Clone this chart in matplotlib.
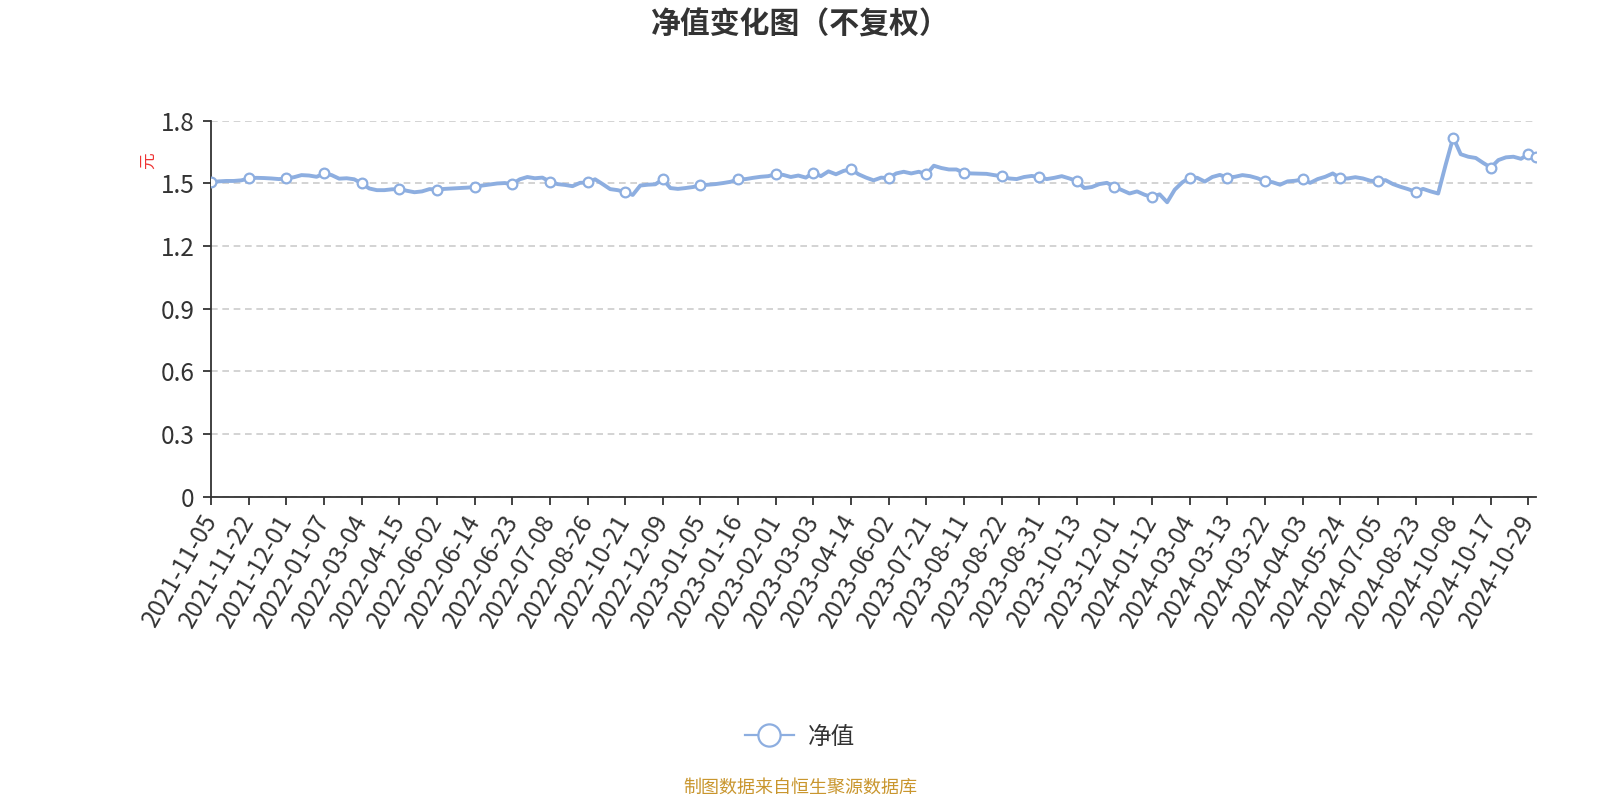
import numpy as np
import matplotlib.pyplot as plt
from matplotlib.lines import Line2D

plt.rcParams['font.family'] = ['Noto Sans CJK SC', 'DejaVu Sans']

# 横轴显示的日期（每隔5个数据点一个标签）
dates = [
    '2021-11-05', '2021-11-22', '2021-12-01', '2022-01-07', '2022-03-04', '2022-04-15',
    '2022-06-02', '2022-06-14', '2022-06-23', '2022-07-08', '2022-08-26', '2022-10-21',
    '2022-12-09', '2023-01-05', '2023-01-16', '2023-02-01', '2023-03-03', '2023-04-14',
    '2023-06-02', '2023-07-21', '2023-08-11', '2023-08-22', '2023-08-31', '2023-10-13',
    '2023-12-01', '2024-01-12', '2024-03-04', '2024-03-13', '2024-03-22', '2024-04-03',
    '2024-05-24', '2024-07-05', '2024-08-23', '2024-10-08', '2024-10-17', '2024-10-29',
]
step = 5

# 单位净值（元），从图上读取的估计值
nav = [
    1.506, 1.510, 1.512, 1.512, 1.515,
    1.524, 1.527, 1.526, 1.524, 1.521,
    1.524, 1.530, 1.540, 1.538, 1.532,
    1.548, 1.540, 1.523, 1.525, 1.520,
    1.500, 1.476, 1.468, 1.468, 1.472,
    1.473, 1.465, 1.458, 1.462, 1.473,
    1.471, 1.474, 1.476, 1.478, 1.480,
    1.483, 1.490, 1.495, 1.500, 1.502,
    1.497, 1.520, 1.531, 1.525, 1.528,
    1.509, 1.497, 1.493, 1.487, 1.503,
    1.505, 1.520, 1.497, 1.473, 1.468,
    1.459, 1.445, 1.490, 1.494, 1.496,
    1.520, 1.478, 1.474, 1.478, 1.483,
    1.491, 1.494, 1.497, 1.502, 1.508,
    1.520, 1.521, 1.527, 1.532, 1.535,
    1.544, 1.541, 1.531, 1.538, 1.528,
    1.552, 1.535, 1.558, 1.544, 1.560,
    1.568, 1.544, 1.528, 1.515, 1.528,
    1.525, 1.548, 1.556, 1.548, 1.556,
    1.544, 1.585, 1.574, 1.567, 1.567,
    1.551, 1.548, 1.547, 1.546, 1.540,
    1.535, 1.524, 1.521, 1.531, 1.536,
    1.531, 1.521, 1.527, 1.535, 1.524,
    1.512, 1.478, 1.483, 1.497, 1.503,
    1.483, 1.468, 1.452, 1.462, 1.446,
    1.435, 1.448, 1.410, 1.470, 1.505,
    1.528, 1.527, 1.509, 1.531, 1.541,
    1.528, 1.532, 1.540, 1.535, 1.525,
    1.510, 1.506, 1.494, 1.510, 1.513,
    1.519, 1.503, 1.521, 1.532, 1.548,
    1.525, 1.524, 1.530, 1.524, 1.513,
    1.511, 1.516, 1.497, 1.484, 1.473,
    1.460, 1.474, 1.462, 1.452, 1.590,
    1.720, 1.640, 1.628, 1.622, 1.598,
    1.576, 1.612, 1.625, 1.628, 1.618,
    1.640, 1.625,
]

line_color = '#8daee0'
text_color = '#333333'

fig = plt.figure(figsize=(16, 8), dpi=100)
ax = fig.add_axes([0.132, 0.379, 0.828, 0.470])

x = np.arange(len(nav))
y = np.array(nav)
ax.plot(x, y, color=line_color, lw=2.8, zorder=3, solid_joinstyle='round')

mark_idx = list(range(0, len(nav), step))
if mark_idx[-1] != len(nav) - 1:
    mark_idx.append(len(nav) - 1)
ax.plot(x[mark_idx], y[mark_idx], ls='none', marker='o', ms=7,
        mfc='white', mec=line_color, mew=1.6, zorder=4)

ax.set_xlim(0, len(nav) - 1)
ax.set_ylim(0, 1.8)

yt = np.arange(0, 1.81, 0.3)
ax.set_yticks(yt)
ax.set_yticklabels(['0' if v == 0 else f'{v:.1f}' for v in yt], fontsize=17.5, color=text_color)
ax.set_xticks(range(0, len(dates) * step, step))
ax.set_xticklabels(dates, rotation=60, ha='right', va='center', rotation_mode='anchor',
                   fontsize=17.5, color=text_color)
ax.tick_params(axis='both', length=6, width=1.3, color=text_color, pad=6)
ax.tick_params(axis='x', pad=8)

ax.grid(axis='y', color='#cccccc', lw=1.2, dashes=(4, 2.8))
ax.set_axisbelow(True)
for side in ['top', 'right']:
    ax.spines[side].set_visible(False)
for side in ['left', 'bottom']:
    ax.spines[side].set_color(text_color)
    ax.spines[side].set_linewidth(1.3)

fig.text(148 / 1600, 1 - 161 / 800, '元', color='#ee3333', fontsize=12,
         rotation=90, ha='center', va='center')

fig.suptitle('净值变化图（不复权）', x=0.5, y=1 - 25 / 800, va='center',
             fontsize=21.5, fontweight='bold', color=text_color)

handle = Line2D([], [], color=line_color, lw=1.6, marker='o', ms=16,
                mfc='white', mec=line_color, mew=1.6)
fig.legend([handle], ['净值'], loc='center', bbox_to_anchor=(0.5, 1 - 737 / 800),
           frameon=False, fontsize=17, handlelength=2.1, handletextpad=0.6,
           labelcolor=text_color)

fig.text(0.5, 1 - 788 / 800, '制图数据来自恒生聚源数据库', color='#c9962e',
         fontsize=13, ha='center', va='center')

fig.savefig('out.png', dpi=100)
